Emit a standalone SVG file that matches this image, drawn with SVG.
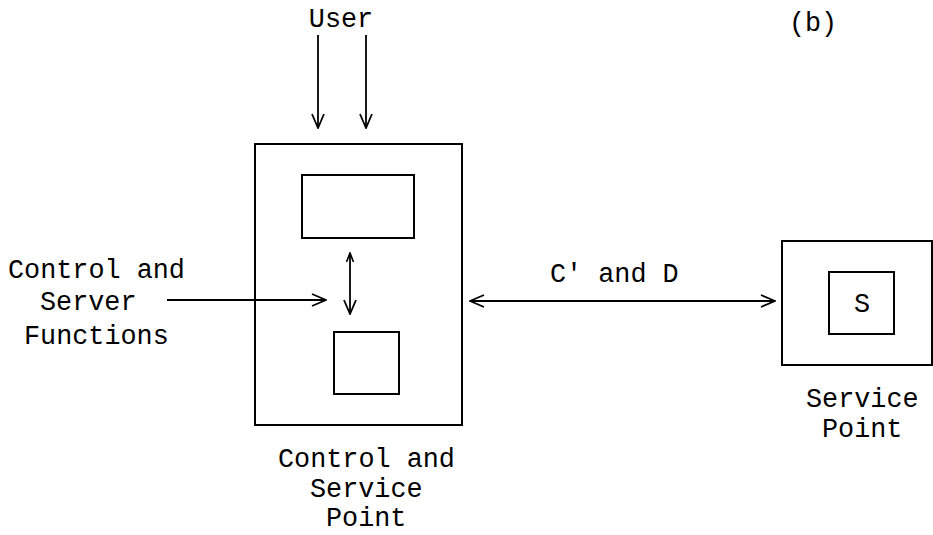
<svg xmlns="http://www.w3.org/2000/svg" width="933" height="535" viewBox="0 0 933 535">
  <style>
    .box { fill: none; stroke: #000; stroke-width: 2; }
    .line { fill: none; stroke: #000; stroke-width: 1.8; }
    .lbl { font-family: "Liberation Mono", "DejaVu Sans Mono", monospace; font-size: 26.8px; fill: #000; }
  </style>
  <defs>
    <marker id="open" markerUnits="userSpaceOnUse" viewBox="0 0 16 14" refX="15" refY="7" markerWidth="16" markerHeight="14" orient="auto-start-reverse">
      <path d="M1,1 L15,7 L1,13" fill="none" stroke="#000" stroke-width="1.8"/>
    </marker>
    <marker id="small" markerUnits="userSpaceOnUse" viewBox="0 0 11 9" refX="10" refY="4.5" markerWidth="11" markerHeight="9" orient="auto-start-reverse">
      <path d="M1,1 L10,4.5 L1,8" fill="none" stroke="#000" stroke-width="1.6"/>
    </marker>
  </defs>

  <rect width="933" height="535" fill="#fff"/>

  <!-- figure tag -->
  <text class="lbl" x="813" y="31" text-anchor="middle">(b)</text>

  <!-- user input label -->
  <g id="user">
    <text class="lbl" x="341" y="27" text-anchor="middle">User</text>
  </g>

  <!-- incoming functions label -->
  <g id="functions">
    <text class="lbl" x="8" y="278">Control and</text>
    <text class="lbl" x="40" y="310">Server</text>
    <text class="lbl" x="24" y="344">Functions</text>
  </g>

  <!-- control and service point -->
  <g id="csp">
    <rect class="box" x="255" y="144" width="207" height="281"/>
    <rect id="csp-upper" class="box" x="302" y="175" width="112" height="63"/>
    <rect id="csp-lower" class="box" x="334" y="332" width="65" height="62"/>
    <text class="lbl" x="278" y="467">Control and</text>
    <text class="lbl" x="310" y="497">Service</text>
    <text class="lbl" x="326" y="526">Point</text>
  </g>

  <!-- remote service point -->
  <g id="sp">
    <rect class="box" x="782" y="241" width="150" height="124"/>
    <rect id="sp-s" class="box" x="829" y="272" width="65" height="62"/>
    <text class="lbl" x="862" y="312" text-anchor="middle">S</text>
    <text class="lbl" x="806" y="407">Service</text>
    <text class="lbl" x="822" y="437">Point</text>
  </g>

  <!-- link label -->
  <text class="lbl" x="550" y="282">C' and D</text>

  <!-- connectors -->
  <g id="connectors">
    <line class="line" x1="318" y1="35" x2="318" y2="128" marker-end="url(#open)"/>
    <line class="line" x1="366" y1="35" x2="366" y2="128" marker-end="url(#open)"/>
    <line class="line" x1="167" y1="300" x2="326" y2="300" marker-end="url(#open)"/>
    <line class="line" x1="350" y1="253" x2="350" y2="314" marker-start="url(#small)" marker-end="url(#open)"/>
    <line class="line" x1="470" y1="301" x2="775" y2="301" marker-start="url(#open)" marker-end="url(#open)"/>
  </g>
</svg>
